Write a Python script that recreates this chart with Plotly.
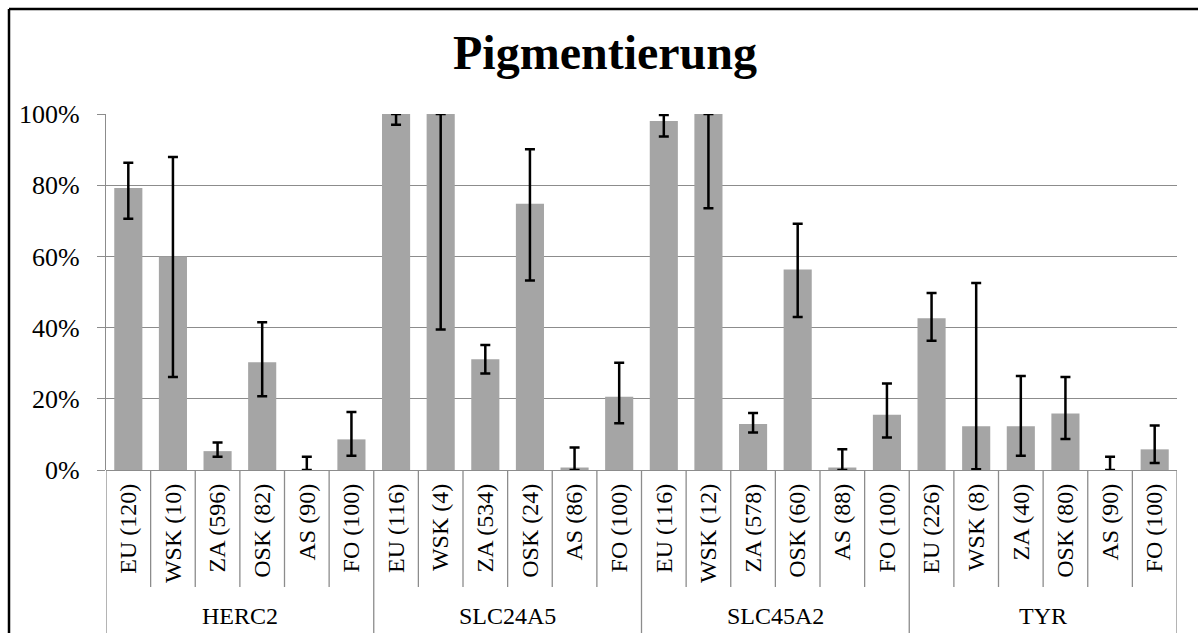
import plotly.graph_objects as go

# Genes (outer category level) and the population labels under each gene
genes = ["HERC2", "SLC24A5", "SLC45A2", "TYR"]
populations = [
    ["EU (120)", "WSK (10)", "ZA (596)", "OSK (82)", "AS (90)", "FO (100)"],
    ["EU (116)", "WSK (4)", "ZA (534)", "OSK (24)", "AS (86)", "FO (100)"],
    ["EU (116)", "WSK (12)", "ZA (578)", "OSK (60)", "AS (88)", "FO (100)"],
    ["EU (226)", "WSK (8)", "ZA (40)", "OSK (80)", "AS (90)", "FO (100)"],
]

# Allele frequencies (%) with lower / upper confidence limits (%)
freq = [
    [79.2, 60.0, 5.3, 30.3, 0.0, 8.6],
    [100.0, 100.0, 31.1, 74.8, 0.7, 20.6],
    [98.0, 100.0, 12.9, 56.3, 0.7, 15.5],
    [42.6, 12.3, 12.3, 15.9, 0.0, 5.8],
]
lower = [
    [70.6, 26.1, 3.7, 20.7, 0.0, 4.0],
    [97.0, 39.5, 27.1, 53.2, 0.0, 13.1],
    [93.7, 73.5, 10.5, 43.0, 0.0, 9.1],
    [36.3, 0.2, 4.0, 8.7, 0.0, 2.0],
]
upper = [
    [86.3, 87.9, 7.7, 41.5, 3.7, 16.3],
    [100.0, 100.0, 35.1, 90.1, 6.3, 30.1],
    [99.7, 100.0, 16.0, 69.2, 5.8, 24.3],
    [49.7, 52.5, 26.4, 26.1, 3.7, 12.5],
]

FONT = "Liberation Serif, Times New Roman, serif"
GRID = "#8c8c8c"
BAR = "#a5a5a5"

labels = [p for grp in populations for p in grp]
values = [v for grp in freq for v in grp]
err_plus = [u - v for gu, gv in zip(upper, freq) for u, v in zip(gu, gv)]
err_minus = [v - l for gv, gl in zip(freq, lower) for v, l in zip(gv, gl)]
xpos = list(range(len(labels)))
n_per = len(populations[0])

W, H = 1198, 633
ML, MR, MT, MB = 106, 21, 114, 163
PW, PH = W - ML - MR, H - MT - MB


def px_to_paper_x(px):
    return (px - ML) / PW


def px_to_paper_y(py):
    return (H - MB - py) / PH


fig = go.Figure()
fig.add_trace(go.Bar(
    x=xpos, y=values, width=0.63,
    marker=dict(color=BAR, line=dict(width=0)),
    error_y=dict(type="data", symmetric=False, array=err_plus,
                 arrayminus=err_minus, color="black", thickness=2.5, width=5),
    hoverinfo="skip",
))

shapes = []
# inner separators between population columns
for k in range(len(labels) - 1):
    if (k + 1) % n_per != 0:
        shapes.append(dict(type="line", xref="x", yref="paper",
                           x0=k + 0.5, x1=k + 0.5, y0=0, y1=px_to_paper_y(587),
                           line=dict(color=GRID, width=1.3)))
# gene group separators
for g in range(len(genes) + 1):
    xb = g * n_per - 0.5
    shapes.append(dict(type="line", xref="x", yref="paper",
                       x0=xb, x1=xb, y0=0, y1=px_to_paper_y(640),
                       line=dict(color=GRID, width=1.3)))
# outer frame (left and top edges)
fx = px_to_paper_x(9)
fy = px_to_paper_y(9)
shapes.append(dict(type="line", xref="paper", yref="paper",
                   x0=fx, x1=fx, y0=fy, y1=px_to_paper_y(640),
                   line=dict(color="black", width=2.5)))
shapes.append(dict(type="line", xref="paper", yref="paper",
                   x0=fx, x1=px_to_paper_x(1205), y0=fy, y1=fy,
                   line=dict(color="black", width=2.5)))

annotations = []
for g, name in enumerate(genes):
    annotations.append(dict(
        x=g * n_per + (n_per - 1) / 2, y=px_to_paper_y(616),
        xref="x", yref="paper", text=name, showarrow=False,
        xanchor="center", yanchor="middle",
        font=dict(family=FONT, size=24, color="black"),
    ))

fig.update_layout(
    width=W, height=H,
    margin=dict(l=ML, r=MR, t=MT, b=MB, pad=0),
    paper_bgcolor="white", plot_bgcolor="white",
    showlegend=False,
    title=dict(text="<b>Pigmentierung</b>", xref="container", yref="container",
               x=605 / W, y=1 - 52 / H, xanchor="center", yanchor="middle",
               font=dict(family=FONT, size=48, color="black")),
    shapes=shapes,
    annotations=annotations,
    bargap=0.37,
)
fig.update_xaxes(
    range=[-0.5, len(labels) - 0.5],
    tickmode="array", tickvals=xpos, ticktext=labels,
    tickangle=-90, ticks="", ticklabelstandoff=8,
    tickfont=dict(family=FONT, size=24, color="black"),
    showgrid=False, zeroline=False, showline=False,
)
fig.update_yaxes(
    range=[0, 100], dtick=20, ticksuffix="%",
    showgrid=True, gridcolor=GRID, gridwidth=1.3,
    zeroline=True, zerolinecolor=GRID, zerolinewidth=1.3,
    showline=True, linecolor=GRID, linewidth=1.3,
    ticks="outside", ticklen=8, tickcolor=GRID, tickwidth=1.3,
    ticklabelstandoff=12,
    tickfont=dict(family=FONT, size=26, color="black"),
)

fig.write_html("out.html")
